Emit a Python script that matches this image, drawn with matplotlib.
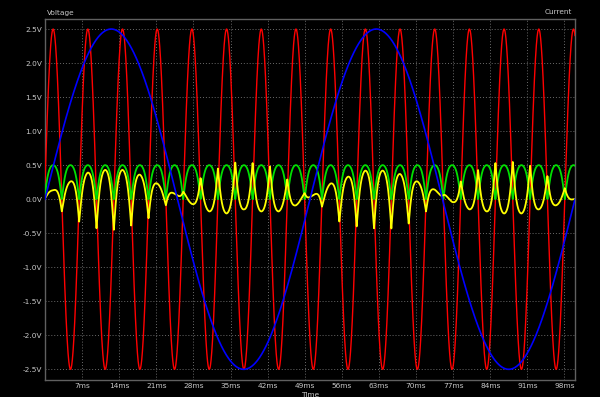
import numpy as np
import matplotlib
matplotlib.use("Agg")
import matplotlib.pyplot as plt

# ---- data ----
x_ticks_ms = [7, 14, 21, 28, 35, 42, 49, 56, 63, 70, 77, 84, 91, 98]
x_tick_labels = ["7ms", "14ms", "21ms", "28ms", "35ms", "42ms", "49ms",
                 "56ms", "63ms", "70ms", "77ms", "84ms", "91ms", "98ms"]
y_ticks_v = [2.5, 2.0, 1.5, 1.0, 0.5, 0.0, -0.5, -1.0, -1.5, -2.0, -2.5]
y_tick_labels = ["2.5V", "2.0V", "1.5V", "1.0V", "0.5V", "0.0V", "-0.5V",
                 "-1.0V", "-1.5V", "-2.0V", "-2.5V"]

# red trace (fast sine): amplitude, period and phase
red_amplitude = 2.5
red_period_ms = 6.545
red_phase_ms = -0.1
# blue trace (slow sine)
blue_amplitude = 2.5
blue_period_ms = 50.0
# green trace: level of the rounded tops (dips go to 0 at red zero crossings)
green_level = 0.5
green_sharpness = 1.1
# yellow trace: value at each green dip, and value midway between dips
yellow_dip_values = [0.00, -0.18, -0.33, -0.43, -0.45, -0.39, -0.28, -0.09,
                     0.11, 0.31, 0.45, 0.54, 0.53, 0.48, 0.29, 0.09,
                     -0.11, -0.33, -0.40, -0.43, -0.43, -0.36, -0.18, 0.06,
                     0.26, 0.43, 0.53, 0.55, 0.49, 0.34, 0.16]
yellow_mid_values = [0.13, 0.26, 0.39, 0.43, 0.43, 0.36, 0.23, 0.08,
                     -0.07, -0.18, -0.21, -0.15, -0.18, -0.18, -0.09, 0.06,
                     0.23, 0.33, 0.42, 0.42, 0.37, 0.26, 0.14, -0.04,
                     -0.15, -0.18, -0.21, -0.21, -0.15, -0.09, 0.00]

# ---- build traces ----
t = np.linspace(0, 100, 20001)
half = red_period_ms / 2
red = red_amplitude * np.sin(2 * np.pi * (t - red_phase_ms) / red_period_ms)
blue = blue_amplitude * np.sin(2 * np.pi * t / blue_period_ms)
theta = np.pi * (t - red_phase_ms) / half
shape = np.tanh(green_sharpness * np.abs(np.sin(theta))) / np.tanh(green_sharpness)
green = green_level * shape
dip_t = red_phase_ms + half * np.arange(len(yellow_dip_values))
mid_t = dip_t[:len(yellow_mid_values)] + half / 2
D = np.interp(t, dip_t, yellow_dip_values)
P = np.interp(t, mid_t, yellow_mid_values)
yellow = P + (D - P) * (1 - shape)

# ---- draw ----
fig = plt.figure(figsize=(6, 3.97), dpi=100, facecolor="black")
ax = fig.add_axes([45 / 600, 1 - 380 / 397, 530 / 600, (380 - 19.3) / 397])
ax.set_facecolor("black")

ax.plot(t, red, color="#ff0000", lw=1.0, zorder=3)
ax.plot(t, green, color="#00e000", lw=1.3, zorder=4)
ax.plot(t, yellow, color="#ffff00", lw=1.3, zorder=5)
ax.plot(t, blue, color="#0000ff", lw=1.2, zorder=6)

ax.set_xlim(0, 100)
ax.set_ylim(-2.657, 2.643)
ax.set_xticks(x_ticks_ms)
ax.set_xticklabels(x_tick_labels)
ax.set_yticks(y_ticks_v)
ax.set_yticklabels(y_tick_labels)
ax.tick_params(colors="#c8c8c8", labelsize=5.3, length=0, pad=2.0)
ax.tick_params(axis="x", pad=2.4)
for sp in ax.spines.values():
    sp.set_color("#606060")
    sp.set_linewidth(1.0)
ax.grid(True, color="#6a6a6a", linestyle=(0, (1, 2)), linewidth=0.7)
ax.set_axisbelow(True)

fig.text(47 / 600, 1 - 12.5 / 397, "Voltage", color="#c8c8c8", fontsize=5.3,
         ha="left", va="center")
fig.text(572 / 600, 1 - 12.5 / 397, "Current", color="#c8c8c8", fontsize=5.3,
         ha="right", va="center")
fig.text(310 / 600, 1 - 392 / 397, "Time", color="#c8c8c8", fontsize=5.3,
         ha="center", va="top")

fig.savefig("out.png", dpi=100, facecolor="black")
